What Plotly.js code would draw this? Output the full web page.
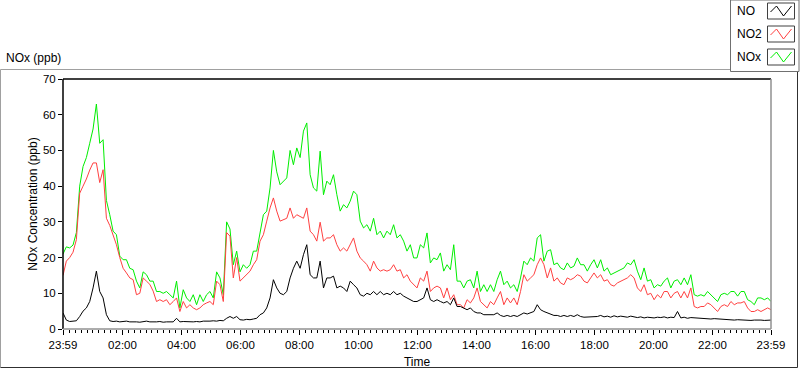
<!DOCTYPE html>
<html>
<head>
<meta charset="utf-8">
<script src="https://cdn.plot.ly/plotly-3.0.1.min.js"></script>
<style>
html,body{margin:0;padding:0;background:#fff;}
#chart{width:800px;height:369px;}
</style>
</head>
<body>
<div id="chart"></div>
<script>
// ---- data (one sample every ~6.8 min from 23:59 to 23:59) ----
const seriesNames = ["NO", "NO2", "NOx"];
const tickLabels = ["23:59","02:00","04:00","06:00","08:00","10:00","12:00","14:00","16:00","18:00","20:00","22:00","23:59"];
const tickHours  = [0, 2.0167, 4.0167, 6.0167, 8.0167, 10.0167, 12.0167, 14.0167, 16.0167, 18.0167, 20.0167, 22.0167, 24];
const yTicks = [0,10,20,30,40,50,60,70];

const NO = [
 4.5,2.5,2.1,2.1,2.3,3.5,5,5.9,7.7,11.5, 16.2,10.5,8.7,4,2.3,2.1,2.2,2.0,2.1,2.2,
 2.0,2.1,2.0,1.9,2.1,2.2,2.0,1.9,2.0,2.1, 1.9,2.0,2.1,2.0,3.0,2.0,2.1,2.0,1.9,2.0,
 2.1,2.0,2.2,2.1,2.2,2.3,2.2,2.4,2.3,3.0, 3.5,3.0,3.5,
 2.6,2.5,2.7,2.6,2.8,3,4,4.5,5.9,8.7, 13.8,11.5,10,9.6,10.5,14.3,17,19,17,20.8,
 23.6,15.2,14.3,14.3,19,11.5,14.3,14.3,14.8,11.5, 12,11.5,10.5,13.4,12.4,11.5,9.6,9.2,10,9.6,
 10.5,9.6,10.5,9.6,10,9.6,10.5,9.6,10,9.2, 8.7,8.2,7.7,
 7.7,8.2,8.7,11.5,8.2,7.7,8.2,7.7,7.3,7.7, 6.8,8.7,6.3,6.3,5.9,5.4,5.9,4.9,4.5,4.5,
 4,4,3.8,4,4.5,3.8,3.5,3.8,3.5,3.8, 3.5,4,4.5,4.2,4.5,4.9,6.8,5.4,4.9,4.5,
 4.2,3.8,3.8,3.5,3.8,3.5,3.8,3.5,4,3.5, 3.3,3.3,3.5,3.4,
 3.5,3.8,3.4,3.6,3.3,3.7,3.4,3.6,3.5,3.3, 3.6,3.3,3.2,3.4,3.1,3.3,3.2,3.1,3.3,3.2,
 3.4,3.1,3.3,3.2,4.9,3.1,3.3,3.0,3.2,3.1, 3.0,2.9,3.0,2.9,2.8,2.9,2.8,2.9,2.8,2.7,
 2.6,2.5,2.6,2.5,2.6,2.5,2.4,2.5,2.6,2.5, 2.4,2.5,2.5
];
const NO2 = [
 15,19,20,21.5,25,38,40,42,44.5,46.5, 46.5,41,44.6,31,29,26.4,23.6,20,17,15.7,
 14.3,13.8,9.6,10,14.3,13.4,12.5,10.6,7.7,8.2, 7.7,8.2,6.8,7.7,8.7,4.9,7.7,5.9,6.8,5.9,
 5.4,5.9,6.8,7.3,7.7,6.8,13.4,12.4,7.7,27, 26,14.3,20,
 13.4,14.3,15.2,16.2,18,19.4,24.6,26.4,30.2,33.9, 36.7,33,30.2,30.6,31,33.9,31,32,31.6,31,
 33.9,27.4,26.4,24.6,29.9,24.6,25.5,25.5,26.4,23.6, 21.8,22.7,21.8,23.6,25.5,21.8,19.9,19,18,16.2,
 19,17.1,16.2,16.6,16.2,16.6,18,16.2,16.6,14.3, 15.2,13.4,12.4,
 11.5,14.3,13.4,16.2,10.5,11.5,12,11.5,8.7,11.5, 8.2,9.6,6.8,6.8,5.9,8.2,7.3,8.7,11.5,7.7,
 6.8,5.9,7.7,6.8,8.7,10.5,6.8,8.7,7.3,8.7, 6.8,10.5,15.2,13.4,14.3,15.2,18,19.9,18,14.3,
 17.1,13.4,14.3,12.9,12.4,14.3,13.8,14.3,15.2,14.8, 13.4,12.9,14.3,15.7,
 14.3,15.2,13.4,13.8,12.4,12,12.9,13.4,13.8,14.3, 15.2,14.3,11.5,10.5,12.4,9.6,10,8.2,9.6,8.7,
 10.5,10.5,8.7,10,10.5,8.7,10.5,8.7,11.5,6.3, 5.9,6.3,6.3,7.3,6.8,5.9,4.9,6.3,6.8,6.3,
 7.7,6.8,7.3,7.3,7.7,5.9,4.9,4.9,5.4,4.9, 5.4,5.9,5.4
];
const NOx = [
 21,23,22.7,23.5,27,40,45.5,48,52,56, 63,52,53,36,32,27.4,26.4,20.4,19.4,19.4,
 17,16.6,13.4,11.5,16,15.2,13.4,13.4,10.5,10.5, 10,10.5,9.6,8.7,13.4,5.9,11,8.7,7.7,9.6,
 6.8,9.6,7.7,9.6,10.5,8.7,16,14.3,9.6,30, 28,18,21.8,
 16,18,17,18,21.8,21.8,27.4,32,33,39.5, 50,44,40.4,41.4,42.3,50,46,50.7,48,55.4,
 57.7,43.2,39.5,38.6,49.8,37.6,41.4,40.4,43.2,37.6, 33,34.8,33.9,35.8,38.6,37.6,30.2,28.3,29.2,27.4,
 31,26.4,27.4,25.5,27.4,26.4,29.2,25.5,26.4,24.6, 21.8,23.6,19.9,
 19.9,23.6,22.7,26.9,18.5,19.9,19.4,21.3,16.2,18, 16.6,23.6,13.4,13.4,11.5,13.4,13.8,11.5,16.2,10.5,
 12.4,10.5,12.4,10.5,13.8,16.2,12.4,13.4,11.5,12.4, 10.5,14.3,19,18,19.9,19,25.5,26.4,19,21.8,
 22.2,18,18.5,17.1,16.6,18.5,17.1,17.6,19.9,18, 18,16.2,18,19.4,
 17.1,19.4,16.2,17.1,15.2,15.7,16.2,16.6,17.1,18.5, 18,19.4,16.2,13.8,17.1,13.4,13.8,11.5,12.4,12,
 13.4,14.3,11.5,13.4,13.8,12.4,14.3,12.4,15.2,9.6, 9.2,9.6,9.2,10.5,9.6,8.7,7.7,9.6,10,9.6,
 10.5,10.5,9.2,10.5,10.5,8.2,7.7,6.8,8.7,8.7, 8.2,8.7,7.7
];
const sampleCount = NO.length;
const hours = NO.map((_, i) => i * 24 / (sampleCount - 1));

// ---- page geometry ----
const W = 800, H = 369;
const M = {l: 63, r: 29, t: 79, b: 40};
const PW = W - M.l - M.r, PH = H - M.t - M.b;
const px = x => (x - M.l) / PW;          // pixel -> paper x
const py = y => 1 - (y - M.t) / PH;      // pixel -> paper y
const FONT = "Liberation Sans, Arial, sans-serif";

const colors = ["#000000", "#ff4040", "#00ee00"];
const series = [NO, NO2, NOx];
const traces = [2,1,0].map(k => ({
  x: hours, y: series[k], type: "scatter", mode: "lines",
  name: seriesNames[k], line: {color: colors[k], width: 1}, showlegend: false,
  hoverinfo: "skip"
}));

const shapes = [];
const line = (x0,y0,x1,y1,c) => shapes.push({type:"line", xref:"paper", yref:"paper",
  x0:px(x0), y0:py(y0), x1:px(x1), y1:py(y1), line:{color:c, width:1}});
// outer frame
line(0.5,69.5,797.5,69.5,"#a0a0a0");
line(0.5,69.5,0.5,367.5,"#a0a0a0");
line(0.5,367.5,797.5,367.5,"#303030");
line(797.5,69.5,797.5,367.5,"#303030");
// plot area borders
shapes.push({type:"line", xref:"x domain", yref:"y domain", x0:0, x1:0, y0:0, y1:1, line:{color:"#000", width:1.5}});
shapes.push({type:"line", xref:"x domain", yref:"y domain", x0:0, x1:1, y0:1, y1:1, line:{color:"#000", width:1.5}});
shapes.push({type:"line", xref:"x domain", yref:"y domain", x0:1, x1:1, y0:0, y1:1, line:{color:"#909090", width:1.5}});
shapes.push({type:"line", xref:"x domain", yref:"y domain", x0:0, x1:1, y0:0, y1:0, line:{color:"#909090", width:1.5}});
// legend box
shapes.push({type:"rect", xref:"paper", yref:"paper", x0:px(730.5), x1:px(799), y0:py(0), y1:py(71.5),
  fillcolor:"#fff", line:{color:"#707070", width:1}});
const annotations = [];
const legendRows = [11, 34, 57];
legendRows.forEach((cy, k) => {
  const bx0 = 767.5, bx1 = 794.5, by0 = cy - 8, by1 = cy + 8;
  shapes.push({type:"rect", xref:"paper", yref:"paper", x0:px(bx0), x1:px(bx1), y0:py(by1), y1:py(by0),
    fillcolor:"#fff", line:{color:"#404040", width:1}});
  const pts = [[bx0+3, cy+1],[bx0+9, cy-5],[bx0+16, cy+5],[bx0+24, cy-5]];
  shapes.push({type:"path", xref:"paper", yref:"paper",
    path: "M" + pts.map(p => px(p[0]) + "," + py(p[1])).join(" L"),
    line:{color: colors[k], width:1}});
  annotations.push({xref:"paper", yref:"paper", x:px(735), y:py(cy), xanchor:"left", yanchor:"middle",
    text: seriesNames[k], showarrow:false, font:{family:FONT, size:12, color:"#000"}});
});
annotations.push({xref:"paper", yref:"paper", x:px(4), y:py(58), xanchor:"left", yanchor:"middle",
  text:"NOx (ppb)", showarrow:false, font:{family:FONT, size:12, color:"#000"}});

const layout = {
  width: W, height: H,
  margin: M,
  paper_bgcolor: "#fff", plot_bgcolor: "#fff",
  font: {family: FONT, size: 11.5, color: "#000"},
  showlegend: false,
  xaxis: {
    range: [0, 24], tickmode: "array", tickvals: tickHours, ticktext: tickLabels,
    ticks: "outside", ticklen: 5, tickcolor: "#000", tickwidth: 1,
    showgrid: false, zeroline: false, showline: false,
    minor: {ticks: "outside", ticklen: 3, tickcolor: "#000", tick0: 1/60, dtick: 0.2, showgrid: false},
    title: {text: "Time", font: {family: FONT, size: 12, color: "#000"}, standoff: 8},
    fixedrange: true
  },
  yaxis: {
    range: [0, 70], tickmode: "array", tickvals: yTicks,
    ticks: "outside", ticklen: 4, tickcolor: "#000", tickwidth: 1,
    showgrid: false, zeroline: false, showline: false,
    title: {text: "NOx Concentration (ppb)", font: {family: FONT, size: 12, color: "#000"}, standoff: 2},
    fixedrange: true
  },
  shapes: shapes,
  annotations: annotations
};
Plotly.newPlot("chart", traces, layout, {displayModeBar: false, staticPlot: true});
</script>
</body>
</html>
